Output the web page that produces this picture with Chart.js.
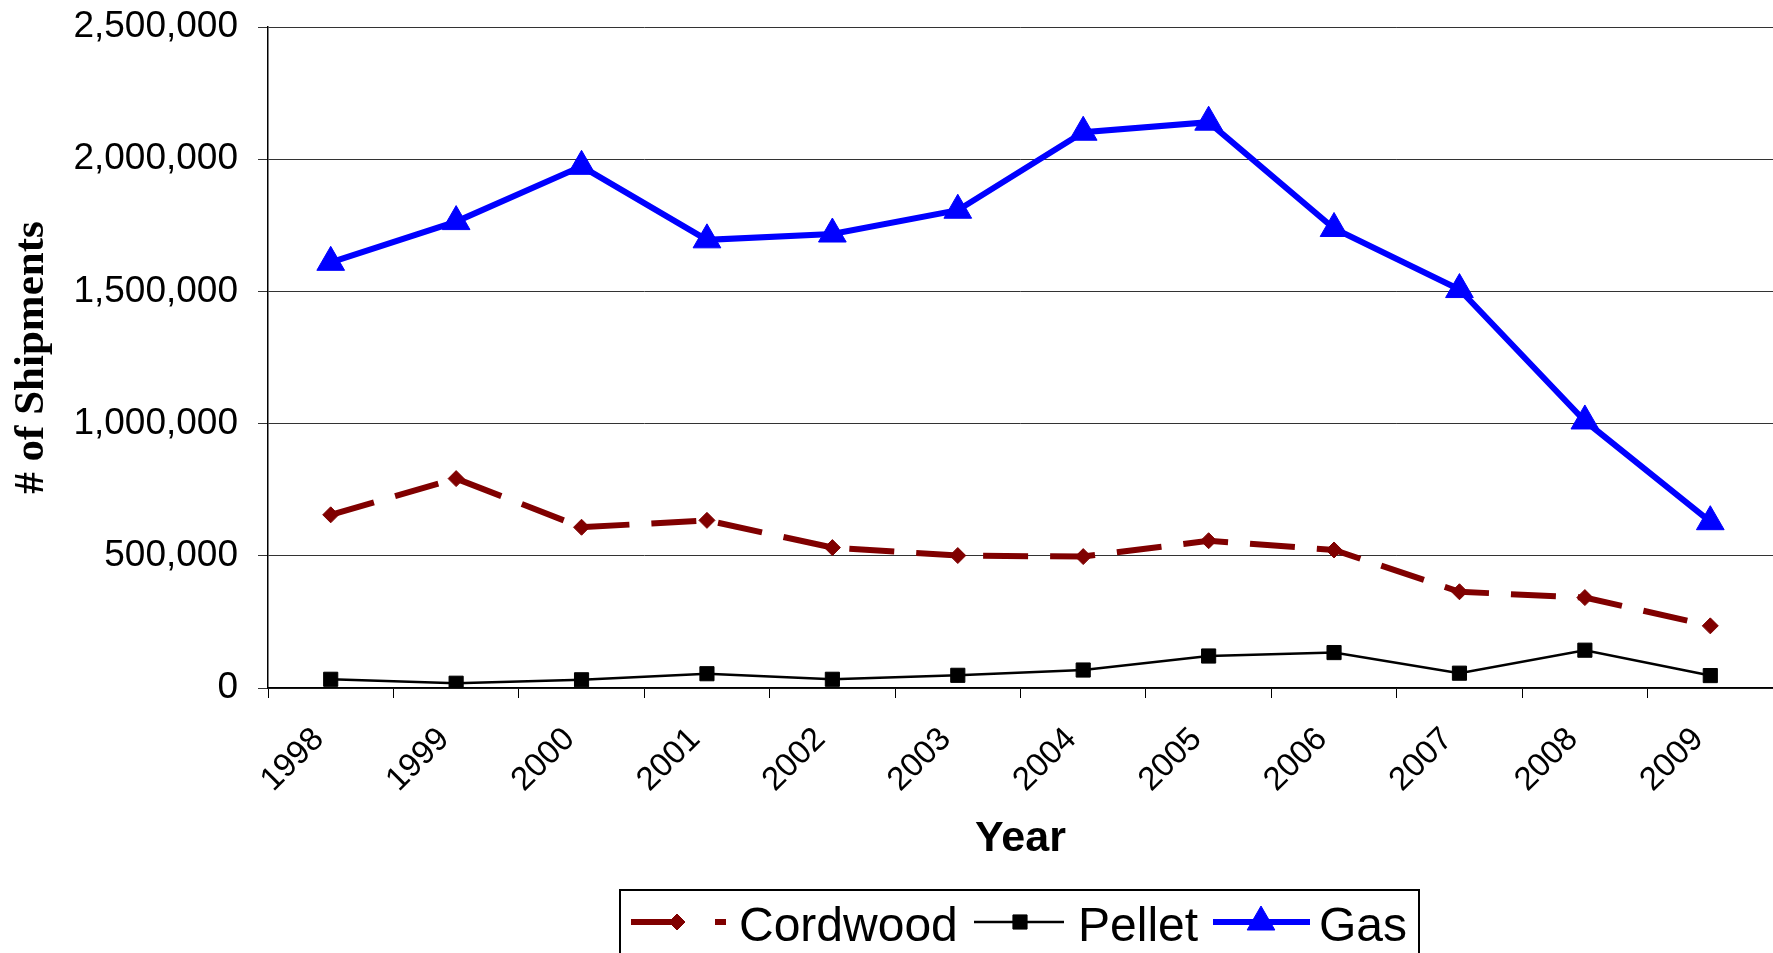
<!DOCTYPE html>
<html>
<head>
<meta charset="utf-8">
<script src="https://cdn.jsdelivr.net/npm/chart.js@4.4.1/dist/chart.umd.min.js"></script>
<style>
  html, body { margin: 0; padding: 0; background: #fff; overflow: hidden; }
  #wrap { width: 1773px; height: 953px; }
</style>
</head>
<body>
<div id="wrap"><canvas id="c" width="1773" height="953"></canvas></div>
<script>
// ---- data ----
const years = ['1998','1999','2000','2001','2002','2003','2004','2005','2006','2007','2008','2009'];
const cordwood = [655000, 792000, 608000, 634000, 531000, 501000, 497000, 557000, 522000, 364000, 342000, 235000];
const pellet   = [33000, 18000, 31000, 54000, 33000, 48000, 68000, 121000, 134000, 56000, 143000, 47000];
const gas      = [1610000, 1764000, 1973000, 1695000, 1717000, 1807000, 2102000, 2140000, 1738000, 1507000, 1010000, 629000];
const yTickValues = [0, 500000, 1000000, 1500000, 2000000, 2500000];
const seriesNames = ['Cordwood', 'Pellet', 'Gas'];

// ---- legend (boxed, Excel-like) ----
const boxLegend = {
  id: 'boxLegend',
  afterDraw(chart) {
    const ctx = chart.ctx;
    const ds = chart.data.datasets;
    ctx.save();
    ctx.strokeStyle = '#000';
    ctx.lineWidth = 2;
    ctx.strokeRect(620, 890, 799, 90);
    const yc = 922;
    const font = '48px "Liberation Sans", Arial, sans-serif';
    const drawMarker = (d, x, y) => {
      ctx.save();
      ctx.fillStyle = d.pointBackgroundColor || d.borderColor;
      ctx.strokeStyle = d.pointBorderColor || d.borderColor;
      ctx.lineWidth = d.pointBorderWidth || 1;
      ctx.setLineDash([]);
      Chart.helpers.drawPoint(ctx, {pointStyle: d.pointStyle, radius: d.pointRadius, rotation: 0, borderWidth: d.pointBorderWidth || 1}, x, y);
      ctx.restore();
    };
    const items = [
      {i: 0, segs: [[631, 678], [715, 726]], mx: 677, tx: 739},
      {i: 1, segs: [[974, 1064]], mx: 1020, tx: 1078},
      {i: 2, segs: [[1213, 1310]], mx: 1261, tx: 1319}
    ];
    items.forEach(it => {
      const d = ds[it.i];
      ctx.save();
      ctx.strokeStyle = d.borderColor;
      ctx.lineWidth = d.borderWidth;
      ctx.lineCap = 'butt';
      it.segs.forEach(s => {
        ctx.beginPath();
        ctx.moveTo(s[0], yc);
        ctx.lineTo(s[1], yc);
        ctx.stroke();
      });
      ctx.restore();
      drawMarker(d, it.mx, yc);
      ctx.fillStyle = '#000';
      ctx.font = font;
      ctx.textBaseline = 'alphabetic';
      ctx.textAlign = 'left';
      ctx.fillText(d.label, it.tx, 941);
    });
    ctx.restore();
  }
};

const ctx = document.getElementById('c').getContext('2d');
new Chart(ctx, {
  type: 'line',
  data: {
    labels: years,
    datasets: [
      {
        label: seriesNames[0],
        data: cordwood,
        borderColor: '#800000',
        backgroundColor: '#800000',
        pointBackgroundColor: '#800000',
        pointBorderColor: '#800000',
        borderWidth: 6,
        borderDash: [45, 22],
        pointStyle: 'rectRot',
        pointRadius: 8,
        pointBorderWidth: 1,
        tension: 0,
        fill: false
      },
      {
        label: seriesNames[1],
        data: pellet,
        borderColor: '#000000',
        backgroundColor: '#000000',
        pointBackgroundColor: '#000000',
        pointBorderColor: '#000000',
        borderWidth: 2.5,
        pointStyle: 'rect',
        pointRadius: 10,
        pointBorderWidth: 1,
        tension: 0,
        fill: false
      },
      {
        label: seriesNames[2],
        data: gas,
        borderColor: '#0000FF',
        backgroundColor: '#0000FF',
        pointBackgroundColor: '#0000FF',
        pointBorderColor: '#0000FF',
        borderWidth: 6,
        pointStyle: 'triangle',
        pointRadius: 16,
        pointBorderWidth: 1,
        tension: 0,
        fill: false
      }
    ]
  },
  options: {
    responsive: false,
    animation: false,
    devicePixelRatio: 1,
    layout: { autoPadding: false, padding: { top: 27, right: 0, bottom: 0, left: 0 } },
    plugins: {
      legend: { display: false },
      tooltip: { enabled: false }
    },
    scales: {
      x: {
        type: 'category',
        offset: true,
        grid: { offset: true, drawOnChartArea: false, drawTicks: true, tickLength: 10, color: '#000', lineWidth: 1 },
        border: { display: true, color: '#000', width: 1.5 },
        ticks: {
          autoSkip: false,
          minRotation: 45,
          maxRotation: 45,
          padding: 22,
          labelOffset: -12,
          color: '#000',
          font: { family: '"Liberation Sans", Arial, sans-serif', size: 33 }
        },
        title: {
          display: true,
          text: 'Year',
          color: '#000',
          font: { family: '"Liberation Sans", Arial, sans-serif', size: 43, weight: 'bold' },
          padding: { top: 0, bottom: 88 }
        },
        afterFit: (s) => { s.height = 953 - 688; s.paddingLeft = 0; s.paddingRight = 0; }
      },
      y: {
        min: 0,
        max: 2500000,
        afterBuildTicks: (s) => { s.ticks = yTickValues.map(v => ({ value: v })); },
        grid: { color: '#333333', lineWidth: 1, drawTicks: true, tickLength: 10 },
        border: { display: true, color: '#000', width: 1.5 },
        ticks: {
          padding: 20,
          color: '#000',
          font: { family: '"Liberation Sans", Arial, sans-serif', size: 37 },
          callback: (v) => Number(v).toLocaleString('en-US')
        },
        title: {
          display: true,
          text: '# of Shipments',
          color: '#000',
          font: { family: '"Liberation Serif", "Times New Roman", serif', size: 43, weight: 'bold' },
          padding: { top: 6, bottom: 0 }
        },
        afterFit: (s) => { s.width = 268; s.paddingTop = 0; s.paddingBottom = 0; }
      }
    }
  },
  plugins: [boxLegend]
});
</script>
</body>
</html>
